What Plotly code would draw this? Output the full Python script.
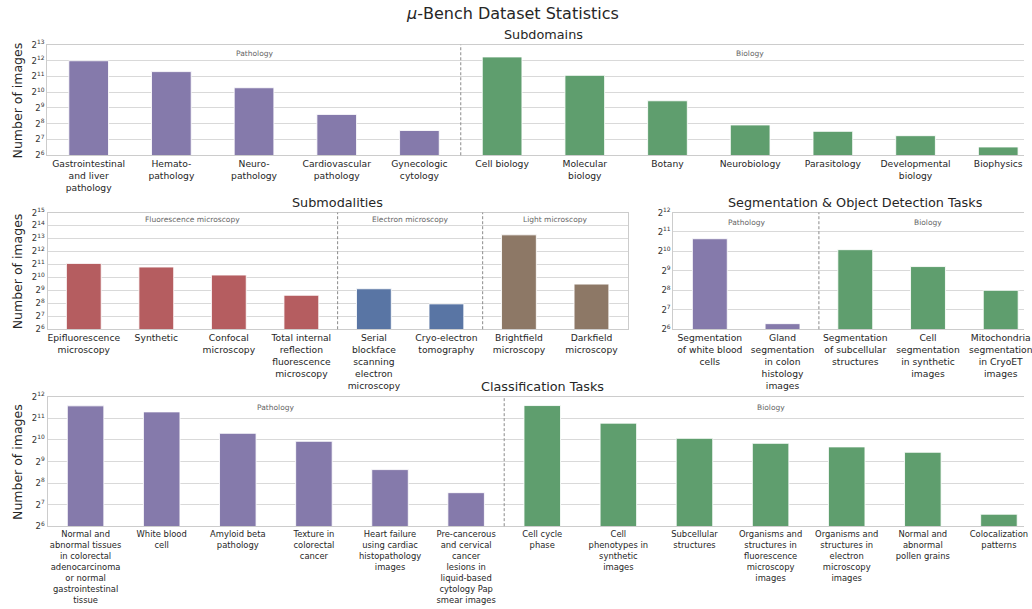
import math
import plotly.graph_objects as go

W, H = 1032, 609

# ---- Subdomains ----
subdomain_labels = [
    "Gastrointestinal<br>and liver<br>pathology", "Hemato-<br>pathology", "Neuro-<br>pathology",
    "Cardiovascular<br>pathology", "Gynecologic<br>cytology",
    "Cell biology", "Molecular<br>biology", "Botany", "Neurobiology", "Parasitology",
    "Developmental<br>biology", "Biophysics",
]
subdomain_counts = [4060, 2520, 1240, 385, 190, 4800, 2140, 700, 242, 183, 151, 92]
subdomain_groups = [("Pathology", 5), ("Biology", 7)]

# ---- Submodalities ----
submodality_labels = [
    "Epifluorescence<br>microscopy", "Synthetic", "Confocal<br>microscopy",
    "Total internal<br>reflection<br>fluorescence<br>microscopy",
    "Serial<br>blockface<br>scanning<br>electron<br>microscopy", "Cryo-electron<br>tomography",
    "Brightfield<br>microscopy", "Darkfield<br>microscopy",
]
submodality_counts = [2160, 1780, 1160, 393, 556, 248, 9940, 714]
submodality_groups = [("Fluorescence microscopy", 4), ("Electron microscopy", 2), ("Light microscopy", 2)]

# ---- Segmentation & object detection ----
segmentation_labels = [
    "Segmentation<br>of white blood<br>cells",
    "Gland<br>segmentation<br>in colon<br>histology<br>images",
    "Segmentation<br>of subcellular<br>structures",
    "Cell<br>segmentation<br>in synthetic<br>images",
    "Mitochondria<br>segmentation<br>in CryoET<br>images",
]
segmentation_counts = [1610, 78, 1090, 597, 256]
segmentation_groups = [("Pathology", 2), ("Biology", 3)]

# ---- Classification ----
classification_labels = [
    "Normal and<br>abnormal tissues<br>in colorectal<br>adenocarcinoma<br>or normal<br>gastrointestinal<br>tissue",
    "White blood<br>cell", "Amyloid beta<br>pathology", "Texture in<br>colorectal<br>cancer",
    "Heart failure<br>using cardiac<br>histopathology<br>images",
    "Pre-cancerous<br>and cervical<br>cancer<br>lesions in<br>liquid-based<br>cytology Pap<br>smear images",
    "Cell cycle<br>phase", "Cell<br>phenotypes in<br>synthetic<br>images", "Subcellular<br>structures",
    "Organisms and<br>structures in<br>fluorescence<br>microscopy<br>images",
    "Organisms and<br>structures in<br>electron<br>microscopy<br>images",
    "Normal and<br>abnormal<br>pollen grains", "Colocalization<br>patterns",
]
classification_counts = [3070, 2530, 1270, 982, 395, 188, 3100, 1760, 1080, 920, 820, 690, 94]
classification_groups = [("Pathology", 6), ("Biology", 7)]

GROUP_COLORS = {
    "Pathology": "#857aab", "Biology": "#5f9e6e",
    "Fluorescence microscopy": "#b55d60", "Electron microscopy": "#5975a4",
    "Light microscopy": "#8d7866",
}

TEXT = "#262626"
FONT = "DejaVu Sans"


# layout grid helpers: design-grid pixels -> page pixels
def gx(x):
    return x / 0.996


def gy(y):
    return (y - 6.72) / 0.9805


# panel geometry on the design grid: left, top, bottom, px per category, exponent range
panels = [
    dict(name="Subdomains", labels=subdomain_labels, counts=subdomain_counts, groups=subdomain_groups,
         left=47.5, top=44.5, bottom=155, step=83.0, exps=(6, 13), ylabel=True, clip=True,
         note_dy=8.8, tick_size=9.2),
    dict(name="Submodalities", labels=submodality_labels, counts=submodality_counts, groups=submodality_groups,
         left=47.7, top=212.3, bottom=329, step=72.8, exps=(6, 15), ylabel=True, clip=False,
         note_dy=7.2, tick_size=9.2),
    dict(name="Segmentation & Object Detection Tasks", labels=segmentation_labels, counts=segmentation_counts,
         groups=segmentation_groups, left=676, top=212.3, bottom=329, step=73.0, exps=(6, 12),
         ylabel=False, clip=True, note_dy=10, tick_size=9.2),
    dict(name="Classification Tasks", labels=classification_labels, counts=classification_counts,
         groups=classification_groups, left=47.7, top=396.7, bottom=526, step=76.4, exps=(6, 12),
         ylabel=True, clip=True, note_dy=10.6, tick_size=8.4),
]

fig = go.Figure()
layout = dict(
    width=W, height=H, margin=dict(l=0, r=0, t=0, b=0),
    paper_bgcolor="white", plot_bgcolor="white", barmode="overlay", showlegend=False,
    font=dict(family=FONT, color=TEXT),
)
annotations = []
shapes = []

for i, p in enumerate(panels):
    suffix = "" if i == 0 else str(i + 1)
    xa, ya = "x" + suffix, "y" + suffix
    n = len(p["labels"])
    left, step = gx(p["left"]), gx(p["step"])
    full_right = left + n * step
    right = W if p["clip"] else full_right
    top, bottom = gy(p["top"]), gy(p["bottom"])

    start = 0
    for gname, size in p["groups"]:
        fig.add_trace(go.Bar(
            x=p["labels"][start:start + size], y=p["counts"][start:start + size],
            width=0.48, marker=dict(color=GROUP_COLORS[gname], line=dict(color="rgba(255,255,255,0.85)", width=1)),
            xaxis=xa, yaxis=ya, hoverinfo="x+y",
        ))
        # group caption near the top of the panel
        annotations.append(dict(
            x=start + (size - 1) / 2, y=1 - p["note_dy"] / (p["bottom"] - p["top"]),
            xref=xa, yref=ya + " domain", text=gname, showarrow=False,
            font=dict(size=7.5, color="#666666", family=FONT), xanchor="center", yanchor="middle",
        ))
        end = start + size
        if end < n:
            shapes.append(dict(
                type="line", xref=xa, yref=ya + " domain", x0=end - 0.5, x1=end - 0.5, y0=0, y1=1,
                line=dict(color="#8a8a8a", width=1, dash="3px,2px"), layer="above",
            ))
        start = end

    x_hi = -0.5 + (right - left) / step
    e0, e1 = p["exps"]
    ticks = list(range(e0, e1 + 1))
    layout["xaxis" + suffix] = dict(
        domain=[left / W, right / W], anchor=ya, type="category",
        categoryorder="array", categoryarray=p["labels"], range=[-0.5, x_hi],
        showgrid=False, showline=True, mirror=True, linecolor="#cccccc", linewidth=1.2,
        ticks="", tickangle=0, tickfont=dict(size=p["tick_size"], color=TEXT, family=FONT),
    )
    layout["yaxis" + suffix] = dict(
        domain=[1 - bottom / H, 1 - top / H], anchor=xa, type="log",
        range=[e0 * math.log10(2), e1 * math.log10(2)],
        tickvals=[2 ** k for k in ticks], ticktext=[f"2<sup>{k}</sup>" for k in ticks],
        showgrid=True, gridcolor="#d9d9d9", gridwidth=1.2,
        showline=True, mirror=not p["clip"], linecolor="#cccccc", linewidth=1.2,
        ticks="", tickfont=dict(size=8.5, color="#333333", family=FONT), zeroline=False,
    )
    # panel title centred on the full axes width
    annotations.append(dict(
        x=(left + full_right) / 2 / W, y=1 - gy(p["top"] - 10) / H, xref="paper", yref="paper",
        text=p["name"], showarrow=False, font=dict(size=12.8, color=TEXT, family=FONT),
        xanchor="center", yanchor="middle",
    ))
    if p["ylabel"]:
        annotations.append(dict(
            x=gx(17.5) / W, y=1 - (top + bottom) / 2 / H, xref="paper", yref="paper",
            text="Number of images", textangle=-90, showarrow=False,
            font=dict(size=12.5, color=TEXT, family=FONT), xanchor="center", yanchor="middle",
        ))

annotations.append(dict(
    x=0.5, y=1 - gy(13) / H, xref="paper", yref="paper",
    text="<i>μ</i>-Bench Dataset Statistics", showarrow=False,
    font=dict(size=16, color=TEXT, family=FONT), xanchor="center", yanchor="middle",
))

layout["annotations"] = annotations
layout["shapes"] = shapes
fig.update_layout(**layout)
fig.write_html("out.html")
